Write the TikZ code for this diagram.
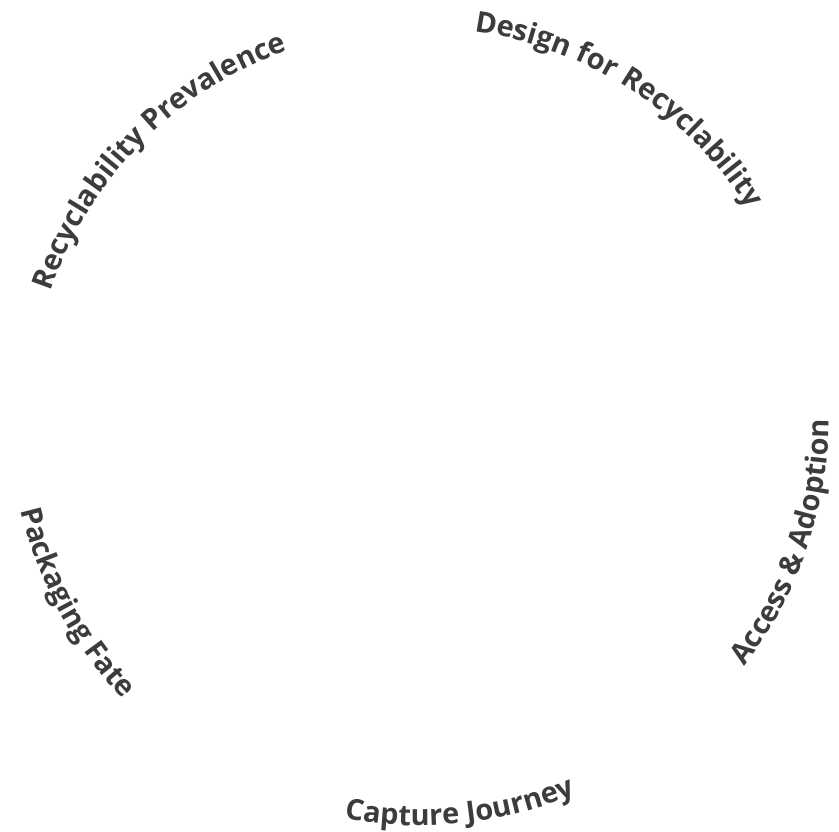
\documentclass[tikz,border=0pt]{standalone}
\usepackage{fontspec}
\usetikzlibrary{decorations.text}
\newfontfamily\labelfont{Open Sans}[BoldFont={Open Sans Bold}]
\definecolor{labelgray}{HTML}{3C3C3C}
\newcommand\ringfont{\labelfont\bfseries\fontsize{29}{29}\selectfont}
\tikzset{
  ringlabel/.style={decorate,decoration={text along path,text align=center,
    text color=labelgray,text={|\ringfont|#1}}}
}

\begin{document}
\begin{tikzpicture}[x=1pt,y=1pt]
  \useasboundingbox (0,0) rectangle (839,832);
  \coordinate (hub) at (419,415.5);
  % upper labels run clockwise
  \path[ringlabel={Design for Recyclability}] ([shift={(127:389)}]hub)
    arc[start angle=127,end angle=-13,radius=389];
  \path[ringlabel={Recyclability Prevalence}] ([shift={(205.5:389)}]hub)
    arc[start angle=205.5,end angle=65.5,radius=389];
  % lower labels run counterclockwise
  \path[ringlabel={Packaging Fate}] ([shift={(138.5:409)}]hub)
    arc[start angle=138.5,end angle=278.5,radius=409];
  \path[ringlabel={Capture Journey}] ([shift={(206:409)}]hub)
    arc[start angle=206,end angle=346,radius=409];
  \path[ringlabel={Access {\&} Adoption}] ([shift={(271:410)}]hub)
    arc[start angle=271,end angle=411,radius=410];
\end{tikzpicture}
\end{document}
